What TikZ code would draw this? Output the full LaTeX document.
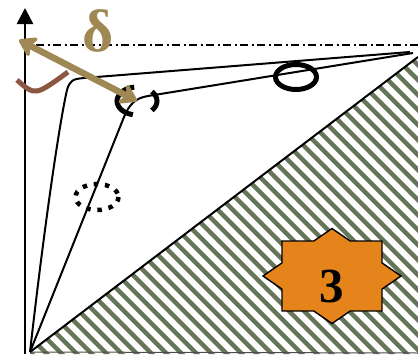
\documentclass[tikz,border=0pt]{standalone}
\usepackage{fontspec}
\setmainfont{Liberation Serif}
\usetikzlibrary{arrows.meta}
\definecolor{tanc}{HTML}{A08855}
\definecolor{brownc}{HTML}{8B5743}
\definecolor{hatchc}{HTML}{657558}
\definecolor{orangec}{HTML}{E5841A}
\tikzset{
  curve/.style={line width=2pt, line join=round},
  fatring/.style={line width=5pt},
  dotring/.style={line width=4.5pt, dash pattern=on 4.5pt off 6.8pt},
  axisline/.style={line width=2.6pt, -{Triangle[length=16pt,width=16pt]}},
  refline/.style={line width=1.8pt, dash pattern=on 8pt off 3.5pt on 2pt off 3.5pt},
  deltaarrow/.style={tanc, line width=6.5pt,
    {Stealth[length=20pt,width=26pt,inset=6pt,round]}-{Stealth[length=20pt,width=26pt,inset=6pt,round]}},
  starshape/.style={fill=orangec, draw=black, line width=1.4pt, line join=miter},
}
\begin{document}
\begin{tikzpicture}[x=1pt,y=-1pt]
\useasboundingbox (0,0) rectangle (418,354);
% key points
\coordinate (o) at (30,352);
\coordinate (tr) at (418,57);
\coordinate (br) at (418,354);
\coordinate (axbot) at (25,354);
\coordinate (axtop) at (25,8);
\coordinate (refl) at (36,45);
\coordinate (refr) at (418,45);
\coordinate (end1) at (410,52);
\coordinate (end2) at (413,53);
\coordinate (ringc) at (296,77);
\coordinate (dotc) at (97,197);
\coordinate (brokc) at (137,101);
\coordinate (arrA) at (19,40);
\coordinate (arrB) at (137,101);
\coordinate (starc) at (332,276);
% hatched region
\begin{scope}
  \clip (o) -- (tr) -- (br) -- (30,354) -- cycle;
  \foreach \k in {0,...,50}
    \draw[hatchc, line width=4.3pt] (\k*15-370,-48) -- ++(420,420);
\end{scope}
\draw[line width=2pt] (o) -- (tr);
\draw[line width=1pt, black!70] (o) -- (418,353);
% axis and reference line
\draw[axisline] (axbot) -- (axtop);
\draw[refline] (refl) -- (refr);
% curves
\draw[curve] (o) .. controls (45,220) and (60,120) .. (67,90)
  .. controls (70,80) and (73,79) .. (84,78) -- (end1);
\draw[curve] (o) -- (124,117) .. controls (129,105) and (135,98) .. (148,96) -- (end2);
% rings
\draw[fatring] (ringc) ellipse [x radius=20.5, y radius=12.5];
\draw[dotring] (dotc) ellipse [x radius=21.5, y radius=13];
\draw[fatring] ([shift={(102:20 and 14)}]brokc) arc[start angle=102, end angle=262, x radius=20, y radius=14];
\draw[fatring] ([shift={(-42:20 and 14)}]brokc) arc[start angle=-42, end angle=42, x radius=20, y radius=14];
% delta arrow and angle arc
\draw[deltaarrow] (arrA) -- (arrB);
\draw[brownc, line width=5pt] (17,80) .. controls (35,96) .. (68,72);
\node[tanc, font=\bfseries\fontsize{60}{60}\selectfont, inner sep=0pt] (delta) at (98,31) {δ};
% star
\draw[starshape, shift={(starc)}]
  (0,-47.5) -- (18.2,-35) -- (50,-35) -- (50,-13.1) -- (69,0) -- (50,13.1) -- (50,35)
  -- (18.2,35) -- (0,47.5) -- (-18.2,35) -- (-50,35) -- (-50,13.1) -- (-69,0)
  -- (-50,-13.1) -- (-50,-35) -- (-18.2,-35) -- cycle;
\node[font=\bfseries\fontsize{49}{49}\selectfont, inner sep=0pt] (three) at (332,287) {3};
\end{tikzpicture}
\end{document}
